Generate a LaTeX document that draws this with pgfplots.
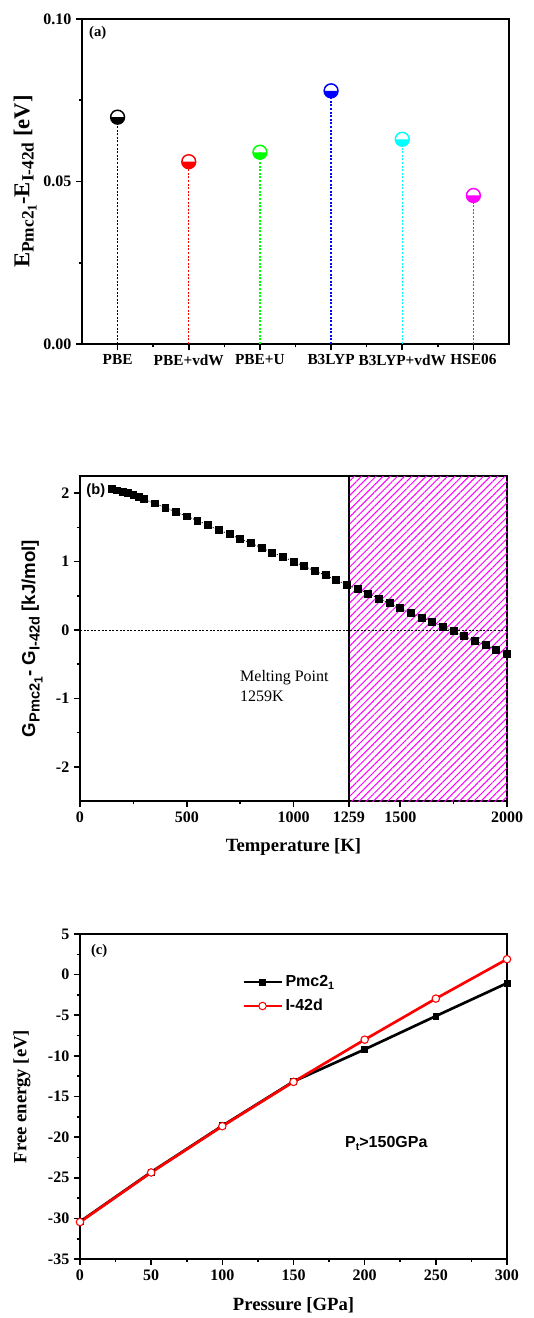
\documentclass[border=0pt]{standalone}
\usepackage{pgfplots}
\pgfplotsset{compat=1.18}
\usepackage{fontspec}
\setmainfont{Liberation Serif}
\newfontfamily\arial{Liberation Sans}
\usetikzlibrary{patterns,patterns.meta,plotmarks}
\definecolor{cblack}{RGB}{0,0,0}
\definecolor{cred}{RGB}{255,0,0}
\definecolor{cgreen}{RGB}{0,255,0}
\definecolor{cblue}{RGB}{0,0,255}
\definecolor{ccyan}{RGB}{0,255,255}
\definecolor{cmag}{RGB}{255,0,255}
\pgfplotsset{
 mystyle/.style={
   scale only axis, width=320.25pt, height=243.75pt,
   axis line style={line width=1.6pt},
   tick align=outside, xtick pos=bottom, ytick pos=left,
   major tick length=4.5pt, minor tick length=2.5pt,
   every tick/.style={black, line width=1.2pt},
   tick label style={font=\bfseries\fontsize{12}{12}\selectfont},
   /pgf/number format/assume math mode=true,
   /pgf/number format/1000 sep={},
   scaled ticks=false,
   anchor=south west,
   label style={font=\bfseries\fontsize{14}{14}\selectfont},
 },
 stem/.style={ycomb, color=#1, line width=1pt, dash pattern=on 1.5pt off 1.2pt,
   mark=halfcircle*, mark size=5.2pt,
   mark options={solid, draw=#1, fill=white, mark color=#1, line width=1.1pt}},
}
\begin{document}
\begin{tikzpicture}
\path[use as bounding box] (0,0) rectangle (400.5pt,-988.5pt);
% ---------------- (a)
\begin{axis}[mystyle, at={(61.5pt,-258pt)},
  xmin=0.5, xmax=6.5, ymin=0, ymax=0.1,
  xtick={1,2,3,4,5,6}, minor xtick={1.5,2.5,3.5,4.5,5.5},
  xticklabels={PBE,PBE+vdW,PBE+U,B3LYP,B3LYP+vdW,HSE06},
  xticklabel style={font=\bfseries\fontsize{11.5}{11.5}\selectfont},
  ytick={0,0.05,0.1}, minor ytick={0.025,0.075},
  yticklabel style={/pgf/number format/.cd, fixed, fixed zerofill, precision=2},
  ylabel={E\raisebox{-0.4ex}{\fontsize{13}{13}\selectfont Pmc2\raisebox{-0.4ex}{\fontsize{10}{10}\selectfont 1}}-E\raisebox{-0.4ex}{\fontsize{13}{13}\selectfont I-42d} [eV]},
  ylabel style={at={(axis description cs:-0.133,0.5)}, anchor=center, font=\bfseries\fontsize{17}{17}\selectfont},
]
\addplot[stem=cblack] coordinates {(1,0.0698)};
\addplot[stem=cred] coordinates {(2,0.0561)};
\addplot[stem=cgreen] coordinates {(3,0.0590)};
\addplot[stem=cblue] coordinates {(4,0.0779)};
\addplot[stem=ccyan] coordinates {(5,0.0630)};
\addplot[stem=cmag] coordinates {(6,0.0457)};
\node[font=\bfseries\fontsize{11}{11}\selectfont] at (axis description cs:0.037,0.957) {(a)};
\end{axis}
% ---------------- (b)
\begin{axis}[mystyle, at={(60pt,-600.75pt)},
  xmin=0, xmax=2000, ymin=-2.5, ymax=2.25,
  xtick={0,500,1000,1259,1500,2000}, minor xtick={250,750,1750},
  ytick={-2,-1,0,1,2}, minor ytick={-1.5,-0.5,0.5,1.5},
  xlabel={Temperature [K]},
  xlabel style={at={(axis description cs:0.5,-0.142)}, anchor=center},
  ylabel={\arial\bfseries G\raisebox{-0.45ex}{\fontsize{11}{11}\selectfont Pmc2\raisebox{-0.4ex}{\fontsize{9}{9}\selectfont 1}}- G\raisebox{-0.45ex}{\fontsize{11}{11}\selectfont I-42d} [kJ/mol]},
  ylabel style={at={(axis description cs:-0.112,0.5)}, anchor=center, font=\fontsize{14}{14}\selectfont},
]
\addplot[draw=none, pattern={Lines[angle=45,distance=3.8pt,line width=0.75pt]}, pattern color=cmag]
  coordinates {(1259,-2.5)(2000,-2.5)(2000,2.25)(1259,2.25)(1259,-2.5)};
\addplot[black, line width=1.3pt] coordinates {(1259,-2.5)(1259,2.25)};
\addplot[black, line width=0.6pt, dash pattern=on 1.5pt off 1.2pt] coordinates {(0,0)(2000,0)};
\addplot[black, line width=0.6pt, dash pattern=on 0.8pt off 1pt, mark=square*, mark size=2.6pt, mark options={solid}]
 coordinates {
 (150,2.06)(175,2.04)(200,2.02)(225,2.00)(250,1.98)(275,1.95)(300,1.91)
 (350,1.85)(400,1.79)(450,1.72)(500,1.66)(550,1.60)(600,1.53)(650,1.46)
 (700,1.40)(750,1.33)(800,1.27)(850,1.20)(900,1.13)(950,1.07)(1000,1.00)
 (1050,0.93)(1100,0.86)(1150,0.80)(1200,0.73)(1250,0.66)(1300,0.60)
 (1350,0.53)(1400,0.46)(1450,0.39)(1500,0.32)(1550,0.25)(1600,0.18)
 (1650,0.12)(1700,0.05)(1750,-0.02)(1800,-0.09)(1850,-0.16)(1900,-0.22)
 (1950,-0.29)(2000,-0.35)};
\node[font=\arial\bfseries\fontsize{11}{11}\selectfont] at (axis description cs:0.037,0.955) {(b)};
\node[anchor=north west, inner sep=0pt, align=left, font=\fontsize{12}{15}\selectfont] at (axis cs:749,-0.58) {Melting Point\\1259K};
\end{axis}
% ---------------- (c)
\begin{axis}[mystyle, at={(60pt,-944.25pt)},
  xmin=0, xmax=300, ymin=-35, ymax=5,
  xtick={0,50,...,300}, minor xtick={25,75,...,275},
  ytick={-35,-30,...,5}, minor ytick={-32.5,-27.5,...,2.5},
  xlabel={Pressure [GPa]},
  xlabel style={at={(axis description cs:0.5,-0.141)}, anchor=center},
  ylabel={Free energy [eV]},
  ylabel style={at={(axis description cs:-0.136,0.5)}, anchor=center},
  legend style={draw=none, fill=none, at={(axis description cs:0.37,0.89)}, anchor=north west,
    font=\arial\bfseries\fontsize{12}{12}\selectfont, row sep=4pt},
  legend cell align=left,
  legend image code/.code={\draw[mark repeat=2,mark phase=2] plot coordinates {(0cm,0cm)(0.5cm,0cm)(1.0cm,0cm)};},
]
\addplot[black, line width=2pt, mark=square*, mark size=2.2pt, mark options={solid, line width=0.5pt, fill=black}]
 coordinates {(0,-30.4)(50,-24.3)(100,-18.6)(150,-13.15)(200,-9.2)(250,-5.1)(300,-1.05)};
\addlegendentry{Pmc2\raisebox{-0.4ex}{\fontsize{8}{8}\selectfont 1}}
\addplot[cred, line width=2pt, mark=*, mark size=2.8pt, mark options={solid, line width=0.8pt, fill=white}]
 coordinates {(0,-30.45)(50,-24.35)(100,-18.65)(150,-13.2)(200,-8.0)(250,-2.95)(300,1.9)};
\addlegendentry{I-42d}
\node[font=\bfseries\fontsize{11}{11}\selectfont] at (axis description cs:0.045,0.948) {(c)};
\node[anchor=west, font=\arial\bfseries\fontsize{12}{12}\selectfont] at (axis cs:183,-20.8) {P\raisebox{-0.4ex}{\fontsize{8}{8}\selectfont t}>150GPa};
\end{axis}
\end{tikzpicture}
\end{document}
